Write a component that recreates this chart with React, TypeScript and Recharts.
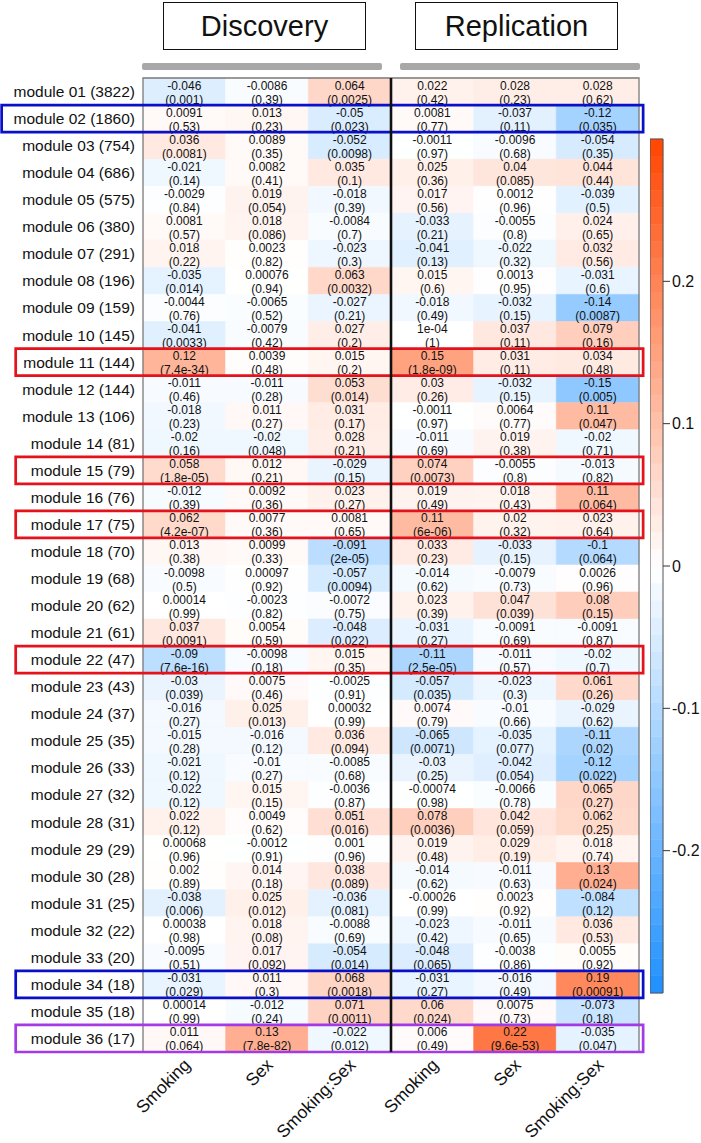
import {
  Bar,
  BarChart,
  Cell,
  ComposedChart,
  LabelList,
  Line,
  ReferenceArea,
  ReferenceLine,
  XAxis,
  YAxis,
} from "recharts";

// ── Data ──────────────────────────────────────────────────────────────────────
const MODULE_SIZES = [
  3822, 1860, 754, 686, 575, 380, 291, 196, 159, 145, 144, 144, 106, 81, 79, 76, 75, 70,
  68, 62, 61, 47, 43, 37, 35, 33, 32, 31, 29, 28, 25, 22, 20, 18, 18, 17,
];
const COLUMN_LABELS = ["Smoking", "Sex", "Smoking:Sex", "Smoking", "Sex", "Smoking:Sex"];

// Discovery
const DISC_SMOKING_COEF = [
  -0.046, 0.0091, 0.036, -0.021, -0.0029, 0.0081, 0.018, -0.035, -0.0044, -0.041, 0.12, -0.011,
  -0.018, -0.02, 0.058, -0.012, 0.062, 0.013, -0.0098, 0.00014, 0.037, -0.09, -0.03, -0.016,
  -0.015, -0.021, -0.022, 0.022, 0.00068, 0.002, -0.038, 0.00038, -0.0095, -0.031, 0.00014, 0.011,
];
const DISC_SMOKING_P = [
  0.001, 0.53, 0.0081, 0.14, 0.84, 0.57, 0.22, 0.014, 0.76, 0.0033, 7.4e-34, 0.46,
  0.23, 0.16, 1.8e-5, 0.39, 4.2e-7, 0.38, 0.5, 0.99, 0.0091, 7.6e-16, 0.039, 0.27,
  0.28, 0.12, 0.12, 0.12, 0.96, 0.89, 0.006, 0.98, 0.51, 0.029, 0.99, 0.064,
];
const DISC_SEX_COEF = [
  -0.0086, 0.013, 0.0089, 0.0082, 0.019, 0.018, 0.0023, 0.00076, -0.0065, -0.0079, 0.0039, -0.011,
  0.011, -0.02, 0.012, 0.0092, 0.0077, 0.0099, 0.00097, -0.0023, 0.0054, -0.0098, 0.0075, 0.025,
  -0.016, -0.01, 0.015, 0.0049, -0.0012, 0.014, 0.025, 0.018, 0.017, 0.011, -0.012, 0.13,
];
const DISC_SEX_P = [
  0.39, 0.23, 0.35, 0.41, 0.054, 0.086, 0.82, 0.94, 0.52, 0.42, 0.48, 0.28,
  0.27, 0.048, 0.21, 0.36, 0.36, 0.33, 0.92, 0.82, 0.59, 0.18, 0.46, 0.013,
  0.12, 0.27, 0.15, 0.62, 0.91, 0.18, 0.012, 0.08, 0.092, 0.3, 0.24, 7.8e-82,
];
const DISC_INTER_COEF = [
  0.064, -0.05, -0.052, 0.035, -0.018, -0.0084, -0.023, 0.063, -0.027, 0.027, 0.015, 0.053,
  0.031, 0.028, -0.029, 0.023, 0.0081, -0.091, -0.057, -0.0072, -0.048, 0.015, -0.0025, 0.00032,
  0.036, -0.0085, -0.0036, 0.051, 0.001, 0.038, -0.036, -0.0088, -0.054, 0.068, 0.071, -0.022,
];
const DISC_INTER_P = [
  0.0025, 0.023, 0.0098, 0.1, 0.39, 0.7, 0.3, 0.0032, 0.21, 0.2, 0.2, 0.014,
  0.17, 0.21, 0.15, 0.27, 0.65, 2e-5, 0.0094, 0.75, 0.022, 0.35, 0.91, 0.99,
  0.094, 0.68, 0.87, 0.016, 0.96, 0.089, 0.081, 0.69, 0.014, 0.0018, 0.0011, 0.012,
];

// Replication
const REP_SMOKING_COEF = [
  0.022, 0.0081, -0.0011, 0.025, 0.017, -0.033, -0.041, 0.015, -0.018, 1e-4, 0.15, 0.03,
  -0.0011, -0.011, 0.074, 0.019, 0.11, 0.033, -0.014, 0.023, -0.031, -0.11, -0.057, 0.0074,
  -0.065, -0.03, -0.00074, 0.078, 0.019, -0.014, -0.00026, -0.023, -0.048, -0.031, 0.06, 0.006,
];
const REP_SMOKING_P = [
  0.42, 0.77, 0.97, 0.36, 0.56, 0.21, 0.13, 0.6, 0.49, 1, 1.8e-9, 0.26,
  0.97, 0.69, 0.0073, 0.49, 6e-6, 0.23, 0.62, 0.39, 0.27, 2.5e-5, 0.035, 0.79,
  0.0071, 0.25, 0.98, 0.0036, 0.48, 0.62, 0.99, 0.42, 0.065, 0.27, 0.024, 0.49,
];
const REP_SEX_COEF = [
  0.028, -0.037, -0.0096, 0.04, 0.0012, -0.0055, -0.022, 0.0013, -0.032, 0.037, 0.031, -0.032,
  0.0064, 0.019, -0.0055, 0.018, 0.02, -0.033, -0.0079, 0.047, -0.0091, -0.011, -0.023, -0.01,
  -0.035, -0.042, -0.0066, 0.042, 0.029, -0.011, 0.0023, -0.011, -0.0038, -0.016, 0.0075, 0.22,
];
const REP_SEX_P = [
  0.23, 0.11, 0.68, 0.085, 0.96, 0.8, 0.32, 0.95, 0.15, 0.11, 0.11, 0.15,
  0.77, 0.38, 0.8, 0.43, 0.32, 0.15, 0.73, 0.039, 0.69, 0.57, 0.3, 0.66,
  0.077, 0.054, 0.78, 0.059, 0.19, 0.63, 0.92, 0.65, 0.86, 0.49, 0.73, 9.6e-53,
];
const REP_INTER_COEF = [
  0.028, -0.12, -0.054, 0.044, -0.039, 0.024, 0.032, -0.031, -0.14, 0.079, 0.034, -0.15,
  0.11, -0.02, -0.013, 0.11, 0.023, -0.1, 0.0026, 0.08, -0.0091, -0.02, 0.061, -0.029,
  -0.11, -0.12, 0.065, 0.062, 0.018, 0.13, -0.084, 0.036, 0.0055, 0.19, -0.073, -0.035,
];
const REP_INTER_P = [
  0.62, 0.035, 0.35, 0.44, 0.5, 0.65, 0.56, 0.6, 0.0087, 0.16, 0.48, 0.005,
  0.047, 0.71, 0.82, 0.064, 0.64, 0.064, 0.96, 0.15, 0.87, 0.7, 0.26, 0.62,
  0.02, 0.022, 0.27, 0.25, 0.74, 0.024, 0.12, 0.53, 0.92, 0.00091, 0.18, 0.047,
];

// highlighted modules: [module number, colour, wide box]
const HIGHLIGHTS: [number, string, boolean][] = [
  [2, "#0a10c8", true],
  [11, "#e3121b", false],
  [15, "#e3121b", false],
  [17, "#e3121b", false],
  [22, "#e3121b", false],
  [34, "#0a10c8", false],
  [36, "#a43ae6", false],
];

const LEGEND_TICKS = [-0.2, -0.1, 0, 0.1, 0.2];

// ── Theme ─────────────────────────────────────────────────────────────────────
const FONT = '"Liberation Sans", Arial, Helvetica, sans-serif';
const LIMIT = 0.3;
const NEG = [30, 144, 255]; // dodgerblue
const POS = [255, 69, 0]; // orangered

function heatColor(v: number) {
  const t = Math.max(-1, Math.min(1, v / LIMIT));
  const c = t < 0 ? NEG : POS;
  const a = Math.abs(t);
  const mix = c.map((ch) => Math.round(255 + (ch - 255) * a));
  return `rgb(${mix[0]},${mix[1]},${mix[2]})`;
}

const trimZeros = (s: string) => (s.includes(".") ? s.replace(/0+$/, "").replace(/\.$/, "") : s);

// R-style print of a 2-significant-digit number (fixed unless sci is shorter)
function fmtR(v: number) {
  if (v === 0) return "0";
  const sign = v < 0 ? "-" : "";
  const a = Math.abs(v);
  const e = Math.floor(Math.log10(a) + 1e-9);
  const fixed = trimZeros(a.toFixed(Math.max(0, 1 - e)));
  const m = trimZeros((a / 10 ** e).toFixed(1));
  const sci = `${m}e${e < 0 ? "-" : "+"}${String(Math.abs(e)).padStart(2, "0")}`;
  return sign + (sci.length < fixed.length ? sci : fixed);
}

const COLUMNS = [
  { coef: DISC_SMOKING_COEF, p: DISC_SMOKING_P },
  { coef: DISC_SEX_COEF, p: DISC_SEX_P },
  { coef: DISC_INTER_COEF, p: DISC_INTER_P },
  { coef: REP_SMOKING_COEF, p: REP_SMOKING_P },
  { coef: REP_SEX_COEF, p: REP_SEX_P },
  { coef: REP_INTER_COEF, p: REP_INTER_P },
];

const moduleName = (i: number) => `module ${String(i + 1).padStart(2, "0")} (${MODULE_SIZES[i]})`;

const rows = MODULE_SIZES.map((_, i) => {
  const r: Record<string, string | number> = { name: moduleName(i) };
  COLUMNS.forEach((_, k) => (r[`u${k}`] = 1));
  return r;
});

// colour legend steps
const STEPS = 50;
const legendRows = Array.from({ length: STEPS }, (_, i) => {
  const lo = -LIMIT + (i * 2 * LIMIT) / STEPS;
  const hi = lo + (2 * LIMIT) / STEPS;
  return { id: i, lo, hi, mid: (lo + hi) / 2, color: heatColor((lo + hi) / 2) };
});

// ── Shared chart geometry ─────────────────────────────────────────────────────
const CHART_W = 701;
const CHART_H = 1143;
const MARGIN = { top: 78, right: 62, bottom: 0, left: 0 };
const Y_W = 143;
const X_H = 91;

// ── Cell text ─────────────────────────────────────────────────────────────────
function cellText(k: number) {
  return (props: any) => {
    const vb = props.viewBox && props.viewBox.width != null ? props.viewBox : props;
    const idx = props.index;
    if (idx == null || vb.x == null) return null;
    const cx = Number(vb.x) + Number(vb.width) / 2;
    const top = Number(vb.y);
    const col = COLUMNS[k];
    return (
      <g>
        <text x={cx} y={top + 11.5} textAnchor="middle" fontSize={12} fill="#111">
          {fmtR(col.coef[idx])}
        </text>
        <text x={cx} y={top + 25.5} textAnchor="middle" fontSize={12} fill="#111">
          ({fmtR(col.p[idx])})
        </text>
      </g>
    );
  };
}

function ColumnTick(props: any) {
  const { x, y, payload } = props;
  const label = COLUMN_LABELS[Math.floor(payload.value)];
  return (
    <text
      transform={`translate(${x + 7},${y + 6}) rotate(-45)`}
      textAnchor="end"
      fontSize={17.5}
      fill="#111"
    >
      {label}
    </text>
  );
}

// ── Headers ───────────────────────────────────────────────────────────────────
const headerBox = (left: number): React.CSSProperties => ({
  position: "absolute",
  left,
  top: 2,
  width: 203,
  height: 48,
  boxSizing: "border-box",
  border: "1.6px solid #111",
  display: "flex",
  alignItems: "center",
  justifyContent: "center",
  fontSize: 29,
  color: "#111",
});

const grayBar = (left: number, width: number): React.CSSProperties => ({
  position: "absolute",
  left,
  top: 63,
  width,
  height: 7,
  borderRadius: 2,
  background: "#a8a8a8",
});

export default function App() {
  return (
    <div
      style={{
        position: "absolute",
        left: 0,
        top: 0,
        width: CHART_W,
        height: CHART_H,
        background: "#fff",
        fontFamily: FONT,
      }}
    >
      <div style={headerBox(163)}>Discovery</div>
      <div style={headerBox(415)}>Replication</div>
      <div style={grayBar(142, 240)} />
      <div style={grayBar(400, 240)} />

      {/* heatmap */}
      <div style={{ position: "absolute", left: 0, top: 0 }}>
        <BarChart
          width={CHART_W}
          height={CHART_H}
          data={rows}
          layout="vertical"
          barCategoryGap={0}
          margin={MARGIN}
        >
          <XAxis
            type="number"
            domain={[0, COLUMNS.length]}
            ticks={COLUMN_LABELS.map((_, i) => i + 0.5)}
            interval={0}
            tick={<ColumnTick />}
            tickLine={false}
            axisLine={false}
            height={X_H}
          />
          <YAxis
            type="category"
            dataKey="name"
            width={Y_W}
            interval={0}
            tickLine={false}
            axisLine={false}
            tickSize={8}
            tickMargin={0}
            tick={{ fontSize: 15.5, fill: "#111" }}
          />
          {COLUMNS.map((col, k) => (
            <Bar key={k} dataKey={`u${k}`} stackId="heat" isAnimationActive={false}>
              {col.coef.map((v, i) => (
                <Cell key={i} fill={heatColor(v)} stroke={heatColor(v)} strokeWidth={0.6} />
              ))}
              <LabelList dataKey={`u${k}`} content={cellText(k)} />
            </Bar>
          ))}
        </BarChart>
      </div>

      {/* frame, divider and highlight boxes on top of the cells */}
      <div style={{ position: "absolute", left: 0, top: 0, pointerEvents: "none" }}>
        <BarChart
          width={CHART_W}
          height={CHART_H}
          data={rows}
          layout="vertical"
          barCategoryGap={0}
          margin={MARGIN}
        >
          <XAxis type="number" domain={[0, COLUMNS.length]} tick={false} tickLine={false} axisLine={false} height={X_H} />
          <YAxis type="category" dataKey="name" width={Y_W} tick={false} tickLine={false} axisLine={false} />
          <Bar dataKey="u0" fill="none" isAnimationActive={false} />
          <ReferenceArea x1={0} x2={COLUMNS.length} fill="none" stroke="#7a7a7a" strokeWidth={1.3} />
          <ReferenceLine x={3} stroke="#111" strokeWidth={2.6} />
          {HIGHLIGHTS.map(([m, color, wide]) => (
            <ReferenceArea
              key={m}
              y1={moduleName(m - 1)}
              y2={moduleName(m - 1)}
              x1={wide ? -1.71 : -1.54}
              x2={6.05}
              fill="none"
              stroke={color}
              strokeWidth={2.7}
              ifOverflow="visible"
            />
          ))}
        </BarChart>
      </div>

      {/* colour key */}
      <div style={{ position: "absolute", left: 650, top: 0 }}>
        <ComposedChart
          width={51}
          height={CHART_H}
          data={legendRows}
          margin={{ top: 139, right: 0, bottom: 150, left: 0 }}
        >
          <XAxis dataKey="id" hide />
          <YAxis
            type="number"
            orientation="right"
            domain={[-LIMIT, LIMIT]}
            allowDataOverflow
            ticks={LEGEND_TICKS}
            width={38}
            tickSize={7}
            tickMargin={2}
            axisLine={false}
            tickLine={{ stroke: "#333" }}
            tick={{ fontSize: 16, fill: "#111" }}
          />
          <Line dataKey="mid" stroke="none" dot={false} isAnimationActive={false} />
          {legendRows.map((r) => (
            <ReferenceArea key={r.id} y1={r.lo} y2={r.hi} fill={r.color} fillOpacity={1} stroke={r.color} strokeWidth={0.5} />
          ))}
          <ReferenceArea y1={-LIMIT} y2={LIMIT} fill="none" stroke="#555" strokeWidth={1} />
        </ComposedChart>
      </div>
    </div>
  );
}
